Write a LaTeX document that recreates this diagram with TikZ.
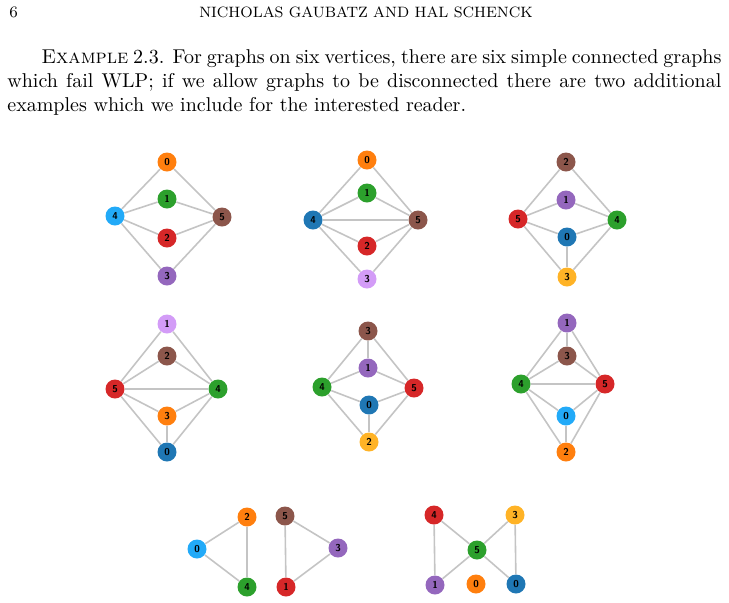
\documentclass[tikz,border=0pt]{standalone}
\definecolor{cOr}{HTML}{FF7F0E}
\definecolor{cGr}{HTML}{2CA02C}
\definecolor{cRd}{HTML}{D62728}
\definecolor{cPu}{HTML}{9467BD}
\definecolor{cBr}{HTML}{8C564B}
\definecolor{cBl}{HTML}{1F77B4}
\definecolor{cLb}{HTML}{22AAF8}
\definecolor{cLp}{HTML}{D39CF7}
\definecolor{cYe}{HTML}{FFB326}
\definecolor{cEdge}{HTML}{C4C4C4}
\pgfdeclarelayer{bg}
\pgfsetlayers{bg,main}
\tikzset{
  vtx/.style={circle, fill=#1, minimum size=9.5pt, inner sep=0pt, font=\fontsize{5}{5}\selectfont\sffamily\bfseries},
  edg/.style={draw=cEdge, line width=0.8pt},
}
\newcommand{\edges}[1]{\begin{pgfonlayer}{bg}\foreach \u/\v in {#1} \draw[edg] (\u) -- (\v);\end{pgfonlayer}}
\begin{document}
\begin{tikzpicture}[x=0.5pt,y=-0.5pt]
\useasboundingbox (0,0) rectangle (729,602);
% header
\node[anchor=base west, inner sep=0, font=\footnotesize] (pg) at (9,17) {6};
\node[anchor=base, inner sep=0, font=\fontsize{7.5}{9}\selectfont] (hd) at (366,17) {NICHOLAS GAUBATZ AND HAL SCHENCK};
\node[anchor=north west, inner sep=0, text width=357pt, align=justify, font=\normalsize] (txt) at (7,49)
{\hspace*{17pt}\textsc{Example} 2.3. For graphs on six vertices, there are six simple connected graphs which fail WLP; if we allow graphs to be disconnected there are two additional examples which we include for the interested reader.};

% Graph 1
\node[vtx=cOr] (a0) at (167,162) {0};
\node[vtx=cGr] (a1) at (167,199) {1};
\node[vtx=cLb] (a4) at (115,216) {4};
\node[vtx=cBr] (a5) at (222,217) {5};
\node[vtx=cRd] (a2) at (167,238) {2};
\node[vtx=cPu] (a3) at (167,276) {3};
\edges{a4/a0,a0/a5,a4/a1,a1/a5,a4/a2,a2/a5,a4/a3,a3/a5}

% Graph 2
\node[vtx=cOr] (b0) at (367,160) {0};
\node[vtx=cGr] (b1) at (367,193) {1};
\node[vtx=cBl] (b4) at (313,220) {4};
\node[vtx=cBr] (b5) at (418,220) {5};
\node[vtx=cRd] (b2) at (367,246) {2};
\node[vtx=cLp] (b3) at (367,279) {3};
\edges{b4/b0,b0/b5,b4/b1,b1/b5,b4/b5,b4/b2,b2/b5,b4/b3,b3/b5}

% Graph 3
\node[vtx=cBr] (c2) at (566,162) {2};
\node[vtx=cPu] (c1) at (566,200) {1};
\node[vtx=cRd] (c5) at (518,219) {5};
\node[vtx=cGr] (c4) at (617,220) {4};
\node[vtx=cBl] (c0) at (567,237) {0};
\node[vtx=cYe] (c3) at (567,277) {3};
\edges{c5/c2,c2/c4,c5/c1,c1/c4,c5/c0,c0/c4,c5/c3,c3/c4,c0/c3}

% Graph 4
\node[vtx=cLp] (d1) at (167,324) {1};
\node[vtx=cBr] (d2) at (167,356) {2};
\node[vtx=cRd] (d5) at (115,389) {5};
\node[vtx=cGr] (d4) at (218,389) {4};
\node[vtx=cOr] (d3) at (167,416) {3};
\node[vtx=cBl] (d0) at (167,452) {0};
\edges{d5/d1,d1/d4,d5/d2,d2/d4,d5/d4,d5/d3,d3/d4,d5/d0,d0/d4,d3/d0}

% Graph 5
\node[vtx=cBr] (e3) at (368,331) {3};
\node[vtx=cPu] (e1) at (368,368) {1};
\node[vtx=cGr] (e4) at (322,387) {4};
\node[vtx=cRd] (e5) at (414,388) {5};
\node[vtx=cBl] (e0) at (369,405) {0};
\node[vtx=cYe] (e2) at (369,442) {2};
\edges{e3/e4,e3/e1,e3/e5,e4/e1,e1/e5,e4/e0,e0/e5,e4/e2,e0/e2,e2/e5}

% Graph 6
\node[vtx=cPu] (f1) at (567,323) {1};
\node[vtx=cBr] (f3) at (567,356) {3};
\node[vtx=cGr] (f4) at (521,384) {4};
\node[vtx=cRd] (f5) at (605,384) {5};
\node[vtx=cLb] (f0) at (566,416) {0};
\node[vtx=cOr] (f2) at (566,452) {2};
\edges{f1/f4,f1/f3,f1/f5,f3/f4,f3/f5,f4/f5,f4/f0,f0/f5,f4/f2,f0/f2,f2/f5}

% Graph 7
\node[vtx=cOr] (g2) at (247,517) {2};
\node[vtx=cLb] (g0) at (197,549) {0};
\node[vtx=cGr] (g4) at (247,587) {4};
\node[vtx=cBr] (g5) at (285,516) {5};
\node[vtx=cPu] (g3) at (338,548) {3};
\node[vtx=cRd] (g1) at (286,587) {1};
\edges{g0/g2,g2/g4,g0/g4,g5/g3,g5/g1,g3/g1}

% Graph 8
\node[vtx=cRd] (h4) at (434,515) {4};
\node[vtx=cYe] (h3) at (515,515) {3};
\node[vtx=cGr] (h5) at (477,550) {5};
\node[vtx=cPu] (h1) at (435,585) {1};
\node[vtx=cOr] (h0) at (476,584) {0};
\node[vtx=cBl] (h2) at (516,584) {0};
\edges{h4/h1,h4/h5,h5/h3,h3/h2,h5/h1,h5/h2}
\end{tikzpicture}
\end{document}
